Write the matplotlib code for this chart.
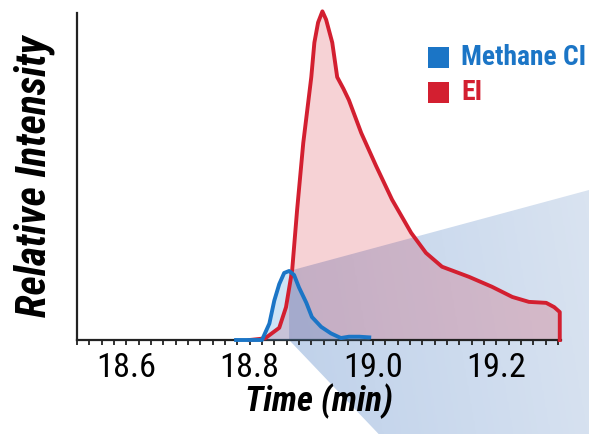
import numpy as np
import matplotlib
matplotlib.use("Agg")
import matplotlib.pyplot as plt
from matplotlib import font_manager
from matplotlib.patches import Polygon, Rectangle
from matplotlib.colors import LinearSegmentedColormap
from matplotlib.ticker import MultipleLocator, FormatStrFormatter

# chromatogram traces (time in min, relative intensity)
ei_time = [18.800, 18.825, 18.848, 18.859, 18.869, 18.877, 18.887, 18.900, 18.905,
           18.911, 18.918, 18.924, 18.934, 18.942, 18.952, 18.961, 18.981, 19.005,
           19.031, 19.062, 19.086, 19.112, 19.156, 19.193, 19.226, 19.253, 19.281,
           19.294, 19.303, 19.303]
ei_int = [0.000, 0.005, 0.037, 0.100, 0.213, 0.396, 0.600, 0.800, 0.905,
          0.966, 1.000, 0.975, 0.905, 0.800, 0.765, 0.730, 0.630, 0.530,
          0.427, 0.326, 0.265, 0.223, 0.192, 0.162, 0.131, 0.116, 0.113,
          0.100, 0.085, 0.000]

ci_time = [18.778, 18.820, 18.832, 18.840, 18.848, 18.856, 18.864, 18.872, 18.880,
           18.892, 18.901, 18.916, 18.932, 18.948, 18.961, 18.978, 18.994]
ci_int = [0.000, 0.000, 0.050, 0.120, 0.170, 0.204, 0.210, 0.198, 0.160,
          0.113, 0.070, 0.040, 0.020, 0.006, 0.010, 0.010, 0.008]

series_names = ["Methane CI", "EI"]
series_colors = ["#1b75c6", "#d31f30"]


def pick_narrow():
    names = {f.name for f in font_manager.fontManager.ttflist}
    for p in ["Liberation Sans Narrow", "Roboto Condensed", "Open Sans Condensed",
              "Noto Sans Condensed", "DejaVu Sans Condensed"]:
        if p in names:
            return p
    others = sorted(n for n in names if "Condensed" in n or "Narrow" in n)
    if others:
        return others[0]
    return "DejaVu Sans"


narrow = pick_narrow()

W, H = 589, 434
fig = plt.figure(figsize=(W / 100, H / 100), dpi=100)

# background layer in pixel units for the zoom wedge
bg = fig.add_axes([0, 0, 1, 1], zorder=-5)
bg.set_xlim(0, W)
bg.set_ylim(0, H)
bg.axis("off")

ax = fig.add_axes([77 / W, (H - 340) / H, (561 - 77) / W, (340 - 13) / H])
ax.patch.set_visible(False)

ax.fill_between(ei_time, ei_int, color=series_colors[1], alpha=0.2, lw=0, zorder=2)
ax.fill_between(ci_time, ci_int, color="#5da3e0", alpha=0.3, lw=0, zorder=3)
ax.plot(ei_time, ei_int, color=series_colors[1], lw=2.8, zorder=4, clip_on=False,
        solid_joinstyle="round")
ax.plot(ci_time, ci_int, color=series_colors[0], lw=2.8, zorder=5, clip_on=False,
        solid_joinstyle="round")

ax.set_xlim(18.52, 19.305)
ax.set_ylim(0, 0.995)
ax.xaxis.set_major_locator(MultipleLocator(0.2))
ax.xaxis.set_minor_locator(MultipleLocator(0.02))
ax.xaxis.set_major_formatter(FormatStrFormatter("%.1f"))
ax.tick_params(axis="x", which="both", direction="out", length=3.5, width=1.3,
               color="#222222", pad=5)
ax.tick_params(axis="y", left=False, labelleft=False)
for side in ["top", "right"]:
    ax.spines[side].set_visible(False)
for side in ["left", "bottom"]:
    ax.spines[side].set_linewidth(1.6)
    ax.spines[side].set_color("#222222")

xlab = ax.set_xlabel("Time (min)", fontfamily=narrow, fontsize=25, fontweight="bold",
                     fontstyle="italic", labelpad=0)
ylab = ax.set_ylabel("Relative Intensity", fontfamily=narrow, fontsize=30,
                     fontweight="bold", fontstyle="italic", labelpad=16)

# legend drawn by hand: colored squares + colored bold labels
leg_texts = []
for i, (name, col) in enumerate(zip(series_names, series_colors)):
    y0 = H - 68 - i * 35
    bg.add_patch(Rectangle((428, y0), 21, 21, facecolor=col, edgecolor="none"))
    leg_texts.append(bg.text(461, y0 + 10.5, name, color=col, fontfamily=narrow,
                             fontsize=20, fontweight="bold", va="center", ha="left"))

# size the texts to the widths they take in the picture (pixels)
fig.canvas.draw()
r = fig.canvas.get_renderer()
tick_labels = ax.get_xticklabels()
for lab in tick_labels:
    lab.set_fontfamily(narrow)
    lab.set_fontsize(25)
fig.canvas.draw()
w = tick_labels[1].get_window_extent(r).width
for lab in tick_labels:
    lab.set_fontsize(min(25, 25 * 60 / w))
w = xlab.get_window_extent(r).width
xlab.set_fontsize(min(25, 25 * 148 / w))
h = ylab.get_window_extent(r).height
ylab.set_fontsize(min(30, 30 * 288 / h))
w = leg_texts[0].get_window_extent(r).width
for t in leg_texts:
    t.set_fontsize(min(20, 20 * 125 / w))
fig.canvas.draw()

# zoom wedge anchored on the CI peak
ipk = int(np.argmax(ci_int))
apex = bg.transData.inverted().transform(ax.transData.transform((ci_time[ipk], ci_int[ipk])))
base = bg.transData.inverted().transform(ax.transData.transform((ci_time[ipk], 0)))
top_right = (W, apex[1] + 0.27 * (W - apex[0]))
bot_left = (base[0] + base[1] / 1.05, 0)
wedge = Polygon([apex, top_right, (W, 0), bot_left, base], closed=True,
                facecolor="none", edgecolor="none")
bg.add_patch(wedge)
cmap = LinearSegmentedColormap.from_list("wedge", ["#bfd1ea", "#cddbee", "#dce5f1"])
gx, gy = np.meshgrid(np.linspace(0, 1, 200), np.linspace(0, 1, 200))
grad = 0.8 * gx + 0.2 * (1 - gy)
im = bg.imshow(grad, extent=(apex[0], W, 0, H), origin="upper", cmap=cmap,
               aspect="auto", zorder=0)
im.set_clip_path(wedge)
bg.set_xlim(0, W)
bg.set_ylim(0, H)

fig.savefig("out.png", dpi=100)
